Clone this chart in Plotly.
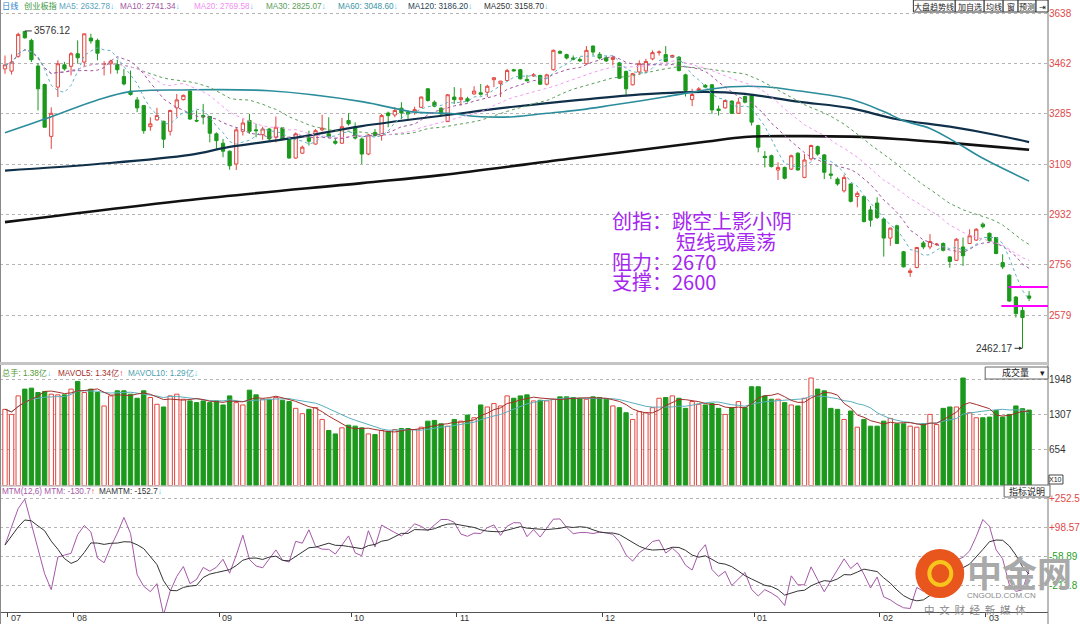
import plotly.graph_objects as go
import pandas as pd

# ---------------- data ----------------
opens = [3443, 3435, 3487, 3574, 3543, 3453, 3388, 3206, 3379, 3457,
         3452, 3496, 3467, 3551, 3543, 3459, 3461, 3458, 3416, 3365,
         3334, 3314, 3240, 3264, 3259, 3224, 3306, 3335, 3365, 3262,
         3279, 3276, 3215, 3182, 3154, 3109, 3224, 3262, 3229, 3212,
         3232, 3203, 3236, 3197, 3130, 3147, 3201, 3179, 3229, 3215,
         3189, 3182, 3262, 3240, 3197, 3144, 3220, 3209, 3288, 3281,
         3305, 3291, 3290, 3308, 3373, 3326, 3305, 3258, 3344, 3335,
         3338, 3355, 3359, 3361, 3405, 3391, 3402, 3440, 3440, 3406,
         3418, 3420, 3389, 3440, 3504, 3493, 3481, 3476, 3461, 3523,
         3494, 3482, 3476, 3464, 3434, 3387, 3432, 3436, 3478, 3500,
         3493, 3484, 3484, 3422, 3335, 3367, 3385, 3387, 3302, 3306,
         3330, 3287, 3346, 3349, 3244, 3136, 3138, 3088, 3097, 3091,
         3147, 3062, 3127, 3170, 3141, 3074, 3056, 3015, 3039, 2995,
         2995, 2948, 2972, 2916, 2849, 2892, 2801, 2728, 2746, 2832,
         2818, 2826, 2830, 2783, 2771, 2818, 2830, 2842, 2898, 2866,
         2851, 2763, 2719, 2642, 2595, 2646]
highs = [3490, 3494, 3570, 3576.12, 3549, 3463, 3391, 3308, 3473, 3467,
         3502, 3543, 3566, 3566, 3549, 3470, 3475, 3475, 3443, 3437,
         3344, 3314, 3273, 3306, 3261, 3299, 3355, 3353, 3367, 3297,
         3320, 3276, 3220, 3197, 3156, 3238, 3267, 3285, 3250, 3240,
         3236, 3276, 3236, 3199, 3220, 3174, 3226, 3232, 3282, 3273,
         3201, 3271, 3287, 3255, 3200, 3215, 3232, 3285, 3293, 3308,
         3326, 3297, 3310, 3346, 3375, 3332, 3308, 3355, 3379, 3375,
         3345, 3382, 3390, 3387, 3412, 3400, 3443, 3443, 3443, 3422,
         3428, 3422, 3426, 3511, 3508, 3496, 3490, 3484, 3523, 3525,
         3502, 3488, 3488, 3467, 3437, 3429, 3473, 3478, 3508, 3508,
         3523, 3493, 3488, 3426, 3373, 3379, 3390, 3390, 3314, 3334,
         3332, 3341, 3349, 3353, 3247, 3154, 3142, 3115, 3100, 3142,
         3150, 3144, 3177, 3174, 3144, 3109, 3062, 3072, 3041, 3013,
         2998, 2962, 2992, 2919, 2886, 2896, 2804, 2743, 2818, 2839,
         2863, 2832, 2834, 2786, 2849, 2851, 2880, 2884, 2904, 2868,
         2853, 2792, 2722, 2646, 2611, 2663]
lows = [3426, 3423, 3482, 3549, 3467, 3297, 3238, 3162, 3344, 3437,
        3420, 3461, 3449, 3531, 3473, 3420, 3426, 3426, 3385, 3349,
        3291, 3215, 3226, 3261, 3165, 3209, 3273, 3332, 3264, 3256,
        3248, 3185, 3162, 3133, 3089, 3088, 3209, 3215, 3203, 3194,
        3191, 3185, 3193, 3128, 3127, 3144, 3174, 3177, 3224, 3200,
        3177, 3179, 3244, 3195, 3109, 3140, 3205, 3191, 3238, 3273,
        3267, 3267, 3282, 3305, 3328, 3308, 3279, 3256, 3320, 3314,
        3325, 3352, 3349, 3344, 3379, 3344, 3400, 3434, 3406, 3399,
        3415, 3387, 3385, 3437, 3496, 3476, 3473, 3467, 3457, 3490,
        3476, 3467, 3455, 3408, 3346, 3385, 3422, 3429, 3473, 3490,
        3467, 3481, 3434, 3346, 3312, 3364, 3375, 3285, 3279, 3303,
        3285, 3285, 3322, 3244, 3150, 3097, 3097, 3053, 3055, 3088,
        3086, 3059, 3121, 3138, 3056, 3056, 3033, 3009, 2974, 2957,
        2904, 2889, 2916, 2784, 2822, 2828, 2746, 2713, 2743, 2810,
        2810, 2822, 2802, 2745, 2769, 2751, 2828, 2839, 2883, 2837,
        2792, 2740, 2626, 2570, 2462.17, 2628]
closes = [3457, 3467, 3564, 3552, 3475, 3373, 3238, 3287, 3461, 3443,
          3496, 3482, 3566, 3541, 3498, 3461, 3470, 3440, 3390, 3353,
          3306, 3226, 3250, 3279, 3196, 3297, 3334, 3350, 3267, 3260,
          3274, 3217, 3191, 3154, 3103, 3229, 3253, 3224, 3226, 3232,
          3197, 3238, 3197, 3130, 3215, 3168, 3189, 3226, 3235, 3205,
          3182, 3240, 3250, 3200, 3144, 3211, 3209, 3279, 3279, 3297,
          3288, 3285, 3300, 3344, 3332, 3312, 3285, 3352, 3335, 3342,
          3330, 3365, 3354, 3382, 3412, 3400, 3437, 3436, 3408, 3401,
          3422, 3389, 3422, 3508, 3498, 3481, 3477, 3471, 3508, 3502,
          3481, 3471, 3483, 3410, 3373, 3426, 3461, 3469, 3500, 3502,
          3469, 3490, 3437, 3367, 3353, 3373, 3379, 3299, 3297, 3332,
          3287, 3326, 3326, 3256, 3168, 3132, 3100, 3097, 3059, 3138,
          3088, 3123, 3174, 3144, 3080, 3070, 3039, 3062, 2978, 3006,
          2907, 2912, 2921, 2849, 2884, 2830, 2748, 2734, 2816, 2818,
          2837, 2828, 2806, 2767, 2845, 2787, 2857, 2880, 2889, 2839,
          2795, 2748, 2628, 2584, 2570, 2638]
volumes = [1394, 1301, 1640, 1764, 1782, 1702, 1721, 1671, 1659, 1659,
           1764, 1905, 1702, 1764, 1702, 1456, 1640, 1733, 1733, 1671,
           1597, 1733, 1610, 1486, 1437, 1640, 1671, 1579, 1548, 1517,
           1548, 1517, 1548, 1474, 1640, 1517, 1474, 1745, 1659, 1579,
           1579, 1610, 1560, 1536, 1412, 1314, 1394, 1425, 1209, 1006,
           944, 1055, 1104, 1086, 1055, 944, 932, 1006, 993, 1024,
           1043, 1043, 1024, 1067, 1178, 1191, 1129, 1086, 1209, 1178,
           1289, 1240, 1474, 1437, 1499, 1456, 1640, 1597, 1640, 1659,
           1548, 1560, 1548, 1579, 1622, 1622, 1610, 1597, 1579, 1622,
           1610, 1579, 1456, 1425, 1332, 1209, 1351, 1332, 1425, 1597,
           1610, 1640, 1597, 1412, 1536, 1486, 1474, 1499, 1412, 1301,
           1425, 1536, 1425, 1807, 1807, 1640, 1579, 1579, 1517, 1474,
           1456, 1597, 1967, 1764, 1733, 1412, 1394, 1209, 1363, 1067,
           1209, 1086, 1086, 1178, 1228, 1129, 1129, 1086, 1067, 1129,
           1301, 1117, 1412, 1437, 1437, 1967, 1332, 1240, 1240, 1252,
           1375, 1252, 1301, 1456, 1406, 1380]
# MTM values of the first 12 sessions (earlier closes not shown)
mtm_head = [4, 100, 200, 250, 115, -30, -150, -235, -60, -50, -40, 60]

# long moving averages at sample sessions
ma60_idx = [0, 7, 14, 19, 27, 40, 54, 62, 67, 72, 77, 82, 87, 92, 100, 106, 110, 115, 120, 128, 133, 136, 140, 144, 148, 155]
ma60_val = [3219, 3275, 3334, 3363, 3369, 3366, 3328, 3291, 3287, 3275, 3275, 3287, 3299, 3316, 3345, 3369, 3380, 3380, 3366, 3336, 3293, 3261, 3234, 3184, 3129, 3049]
ma120_idx = [0, 14, 28, 34, 45, 54, 67, 77, 87, 97, 106, 112, 120, 128, 135, 143, 150, 155]
ma120_val = [3086, 3109, 3141, 3169, 3205, 3242, 3281, 3310, 3334, 3354, 3362, 3355, 3328, 3305, 3266, 3240, 3211, 3186]
ma250_idx = [0, 28, 54, 66, 86, 106, 112, 120, 128, 135, 143, 150, 155]
ma250_val = [2905, 2983, 3042, 3070, 3129, 3187, 3204, 3207, 3205, 3197, 3183, 3169, 3159]

month_idx = [0, 10, 32, 52, 68, 90, 113, 132, 148]
month_labels = ["07", "08", "09", "10", "11", "12", "01", "02", "03"]
price_ticks = [2579, 2756, 2932, 3109, 3285, 3462, 3638]
vol_ticks = [654, 1307, 1948]
mtm_ticks = [-212.8, -58.89, 98.57, 252.5]
mtm_ticktext = ["-212.8", "-58.89", "+98.57", "+252.5"]
resist_level = 2677
support_level = 2611
high_label = 3576.12
low_label = 2462.17

# ---------------- derived series ----------------
n = len(closes)
xs = list(range(n))
cs = pd.Series(closes, dtype=float)
ma5 = cs.rolling(5, min_periods=1).mean()
ma10 = cs.rolling(10, min_periods=1).mean()
ma20 = cs.rolling(20, min_periods=1).mean()
ma30 = cs.rolling(30, min_periods=1).mean()
vs = pd.Series(volumes, dtype=float)
mavol5 = vs.rolling(5, min_periods=1).mean()
mavol10 = vs.rolling(10, min_periods=1).mean()
mtm = list(mtm_head) + [closes[i] - closes[i - 12] for i in range(12, n)]
mamtm = pd.Series(mtm, dtype=float).rolling(6, min_periods=1).mean()

RED = '#e2453f'
GREEN = '#1c991c'
LBL_RED = '#e04848'

W, H = 1080, 624
L, R, T, B = 0, 29, 8, 12
PW = W - L - R
PH = H - T - B


def px(x):
    return (x - L) / PW


def py(y):
    return (H - B - y) / PH


XR = [-0.755, 157.86]

fig = go.Figure()

# moving averages (price panel)
fig.add_trace(go.Scatter(x=ma250_idx, y=ma250_val, mode='lines', line=dict(color='#111111', width=2.6, shape='spline'),
                         xaxis='x', yaxis='y', hoverinfo='skip'))
fig.add_trace(go.Scatter(x=ma120_idx, y=ma120_val, mode='lines', line=dict(color='#10304a', width=2.2, shape='spline'),
                         xaxis='x', yaxis='y', hoverinfo='skip'))
fig.add_trace(go.Scatter(x=ma60_idx, y=ma60_val, mode='lines', line=dict(color='#2b8c9c', width=1.6, shape='spline'),
                         xaxis='x', yaxis='y', hoverinfo='skip'))
for ser, col in [(ma30, '#5a9e5a'), (ma20, '#f39cf3'), (ma10, '#a0559f'), (ma5, '#5fb0c4')]:
    fig.add_trace(go.Scatter(x=xs, y=ser, mode='lines', line=dict(color=col, width=1, dash='dot'),
                             xaxis='x', yaxis='y', hoverinfo='skip'))

fig.add_trace(go.Candlestick(x=xs, open=opens, high=highs, low=lows, close=closes,
                             increasing=dict(line=dict(color=RED, width=1), fillcolor='white'),
                             decreasing=dict(line=dict(color=GREEN, width=1), fillcolor=GREEN),
                             whiskerwidth=0, xaxis='x', yaxis='y', hoverinfo='skip'))

# volume panel
up = [c >= o for o, c in zip(opens, closes)]
fig.add_trace(go.Bar(x=xs, y=volumes, width=0.66,
                     marker=dict(color=['white' if u else GREEN for u in up],
                                 line=dict(color=[RED if u else GREEN for u in up], width=1)),
                     xaxis='x2', yaxis='y2', hoverinfo='skip'))
fig.add_trace(go.Scatter(x=xs, y=mavol10, mode='lines', line=dict(color='#5aaebd', width=1),
                         xaxis='x2', yaxis='y2', hoverinfo='skip'))
fig.add_trace(go.Scatter(x=xs, y=mavol5, mode='lines', line=dict(color='#a3302b', width=1),
                         xaxis='x2', yaxis='y2', hoverinfo='skip'))

# MTM panel
fig.add_trace(go.Scatter(x=xs, y=mtm, mode='lines', line=dict(color='#a558a8', width=1),
                         xaxis='x3', yaxis='y3', hoverinfo='skip'))
fig.add_trace(go.Scatter(x=xs, y=mamtm, mode='lines', line=dict(color='#333333', width=1),
                         xaxis='x3', yaxis='y3', hoverinfo='skip'))

xcommon = dict(range=XR, showgrid=False, zeroline=False, showticklabels=False, fixedrange=True)
grid = dict(showgrid=True, gridcolor='#b4b4b4', griddash='dot', gridwidth=1, zeroline=False, ticks='', fixedrange=True,
            side='right')
font_lat = 'Liberation Sans, Noto Sans CJK SC, sans-serif'
font_cjk = 'Noto Sans CJK SC, Liberation Sans, sans-serif'

fig.update_layout(
    width=W, height=H, margin=dict(l=L, r=R, t=T, b=B),
    paper_bgcolor='white', plot_bgcolor='white', showlegend=False,
    xaxis=dict(**xcommon, anchor='y', rangeslider=dict(visible=False)),
    xaxis2=dict(**xcommon, anchor='y2'),
    xaxis3=dict(**xcommon, anchor='y3', ticks='outside', tickvals=[m + 0.4 for m in month_idx], ticklen=4,
                tickcolor='#444', showline=True, linecolor='#555', linewidth=1),
    yaxis=dict(**grid, domain=[py(362), py(8)], range=[2414.1, 3656.6], tickvals=price_ticks,
               ticktext=[str(v) for v in price_ticks], tickfont=dict(family=font_lat, size=10, color=LBL_RED)),
    yaxis2=dict(**grid, domain=[py(485.5), py(366)], range=[0, 2187], tickvals=vol_ticks,
                ticktext=[str(v) for v in vol_ticks], tickfont=dict(family=font_lat, size=10, color='#333333')),
    yaxis3=dict(**grid, domain=[0, py(486)], range=[-354.8, 320.6], tickvals=mtm_ticks,
                ticktext=["<span style='color:%s'>%s</span>" % ('#2aa02a' if v < 0 else LBL_RED, t)
                          for v, t in zip(mtm_ticks, mtm_ticktext)],
                tickfont=dict(family=font_lat, size=10)),
)

shapes = []
# frame lines
shapes.append(dict(type='line', xref='paper', yref='paper', x0=px(0.5), x1=px(0.5), y0=py(0), y1=py(624),
                   line=dict(color='#888', width=1)))
shapes.append(dict(type='line', xref='paper', yref='paper', x0=px(1051), x1=px(1051), y0=py(0), y1=py(624),
                   line=dict(color='#777', width=1)))
shapes.append(dict(type='line', xref='paper', yref='paper', x0=0, x1=px(1051), y0=py(363.5), y1=py(363.5),
                   line=dict(color='#c4c4c4', width=3)))
shapes.append(dict(type='line', xref='paper', yref='paper', x0=0, x1=px(1051), y0=py(486), y1=py(486),
                   line=dict(color='#aaaaaa', width=1)))
# support / resistance lines
shapes.append(dict(type='line', xref='x', yref='y', x0=151.9, x1=XR[1], y0=resist_level, y1=resist_level,
                   line=dict(color='#ff00ff', width=2)))
shapes.append(dict(type='line', xref='x', yref='y', x0=150.8, x1=XR[1], y0=support_level, y1=support_level,
                   line=dict(color='#ff00ff', width=2)))
# boxes top-right
btns = [(916, 958, '大盘趋势线'), (958, 987, '加自选'), (987, 1006, '均线'), (1006, 1021, '窗'),
        (1021, 1039, '预测'), (1039, 1051, '⇥')]
annotations = []
for x0, x1, t in btns:
    shapes.append(dict(type='rect', xref='paper', yref='paper', x0=px(x0), x1=px(x1), y0=py(12), y1=py(0),
                       line=dict(color='#333', width=1), fillcolor='white'))
    annotations.append(dict(xref='paper', yref='paper', x=px((x0 + x1) / 2), y=py(6), text=t, showarrow=False,
                            xanchor='center', yanchor='middle', font=dict(family=font_cjk, size=8, color='#222')))
# volume-panel selector box
shapes.append(dict(type='rect', xref='paper', yref='paper', x0=px(988), x1=px(1051), y0=py(379), y1=py(367),
                   line=dict(color='#666', width=1), fillcolor='white'))
annotations.append(dict(xref='paper', yref='paper', x=px(1003), y=py(373), text='成交量', showarrow=False,
                        xanchor='left', yanchor='middle', font=dict(family=font_cjk, size=9, color='#222')))
annotations.append(dict(xref='paper', yref='paper', x=px(1045), y=py(373), text='▾', showarrow=False,
                        xanchor='center', yanchor='middle', font=dict(family=font_cjk, size=9, color='#222')))
shapes.append(dict(type='rect', xref='paper', yref='paper', x0=px(1052), x1=px(1066), y0=py(484), y1=py(475),
                   line=dict(color='#444', width=1), fillcolor='white'))
annotations.append(dict(xref='paper', yref='paper', x=px(1059), y=py(479.5), text='X10', showarrow=False,
                        xanchor='center', yanchor='middle', font=dict(family=font_lat, size=7, color='#222')))
shapes.append(dict(type='rect', xref='paper', yref='paper', x0=px(1007), x1=px(1053), y0=py(497), y1=py(485),
                   line=dict(color='#666', width=1), fillcolor='white'))
annotations.append(dict(xref='paper', yref='paper', x=px(1030), y=py(491), text='指标说明', showarrow=False,
                        xanchor='center', yanchor='middle', font=dict(family=font_cjk, size=9, color='#222')))

CY = '#3cc4ef'
HF = 8.2
# header texts
heads = [
    (0, 6, '日线', '#2f86cf'), (22, 6, '创业板指', '#3f9a3f'),
    (57, 6, "MA5: 2632.78<span style='color:%s'>↓</span>" % CY, '#5aa3bd'),
    (118, 6, "MA10: 2741.34<span style='color:%s'>↓</span>" % CY, '#a0559f'),
    (193, 6, "MA20: 2769.58<span style='color:%s'>↓</span>" % CY, '#f28ef2'),
    (265, 6, "MA30: 2825.07<span style='color:%s'>↓</span>" % CY, '#5a9e5a'),
    (337, 6, "MA60: 3048.60<span style='color:%s'>↓</span>" % CY, '#3b93a3'),
    (407, 6, "MA120: 3186.20<span style='color:%s'>↓</span>" % CY, '#2a3f55'),
    (483, 6, "MA250: 3158.70<span style='color:%s'>↓</span>" % CY, '#333333'),
    (0, 373, "总手: 1.38亿<span style='color:%s'>↓</span>" % CY, '#4f9a35'),
    (56, 373, "MAVOL5: 1.34亿<span style='color:#e02020'>↑</span>", '#a3302b'),
    (126, 373, "MAVOL10: 1.29亿<span style='color:%s'>↓</span>" % CY, '#4f9fb0'),
    (0, 491, "MTM(12,6) MTM: -130.7<span style='color:#e02020'>↑</span>", '#a558a8'),
    (97, 491, "MAMTM: -152.7<span style='color:%s'>↓</span>" % CY, '#333333'),
]
for x, y, t, c in heads:
    annotations.append(dict(xref='paper', yref='paper', x=px(x), y=py(y), text=t, showarrow=False,
                            xanchor='left', yanchor='middle', font=dict(family=font_lat, size=HF, color=c)))

# commentary text
PURPLE = '#a526ef'
for x, y, t in [(612, 221, '创指：跳空上影小阴'), (676, 241, '短线或震荡'), (612, 261, '阻力：2670'),
                (612, 281, '支撑：2600')]:
    annotations.append(dict(xref='paper', yref='paper', x=px(x), y=py(y), text=t, showarrow=False,
                            xanchor='left', yanchor='middle', font=dict(family=font_cjk, size=20, color=PURPLE)))

# high / low markers
annotations.append(dict(xref='x', yref='y', x=3, y=high_label, text='%.2f' % high_label, showarrow=True, ax=7,
                        ay=0, arrowhead=0, arrowwidth=1, arrowcolor='#333', xanchor='left', yanchor='middle',
                        font=dict(family=font_lat, size=10, color='#333')))
annotations.append(dict(xref='x', yref='y', x=154, y=low_label, text='%.2f' % low_label, showarrow=True, ax=-8,
                        ay=0, arrowhead=2, arrowsize=0.7, arrowwidth=1, arrowcolor='#333', xanchor='right',
                        yanchor='middle', font=dict(family=font_lat, size=10, color='#333')))

# month labels
for m, lab in zip(month_idx, month_labels):
    annotations.append(dict(xref='x3', yref='paper', x=m + 0.4, y=py(618), text=lab, showarrow=False,
                            xanchor='left', xshift=1, yanchor='middle',
                            font=dict(family=font_lat, size=9, color='#333')))

# watermark logo
shapes.append(dict(type='circle', xref='paper', yref='paper', x0=px(918), x1=px(967), y0=py(598), y1=py(549),
                   line=dict(width=0), fillcolor='#e8561e'))
shapes.append(dict(type='circle', xref='paper', yref='paper', x0=px(932), x1=px(954), y0=py(585), y1=py(562),
                   line=dict(color='#f7c51c', width=4), fillcolor='rgba(0,0,0,0)'))
annotations.append(dict(xref='paper', yref='paper', x=px(968), y=py(571), text='<b>中金网</b>', showarrow=False,
                        xanchor='left', yanchor='middle', font=dict(family=font_cjk, size=35, color='#a9a9a9')))
annotations.append(dict(xref='paper', yref='paper', x=px(968), y=py(595), text='CNGOLD.COM.CN', showarrow=False,
                        xanchor='left', yanchor='middle', font=dict(family=font_lat, size=8, color='#8a8a8a')))
annotations.append(dict(xref='paper', yref='paper', x=px(925), y=py(609), text='中  文  财  经  新  媒  体',
                        showarrow=False, xanchor='left', yanchor='middle',
                        font=dict(family=font_cjk, size=10.5, color='#8a8a8a')))

fig.update_layout(shapes=shapes, annotations=annotations)
fig.write_html("out.html")
